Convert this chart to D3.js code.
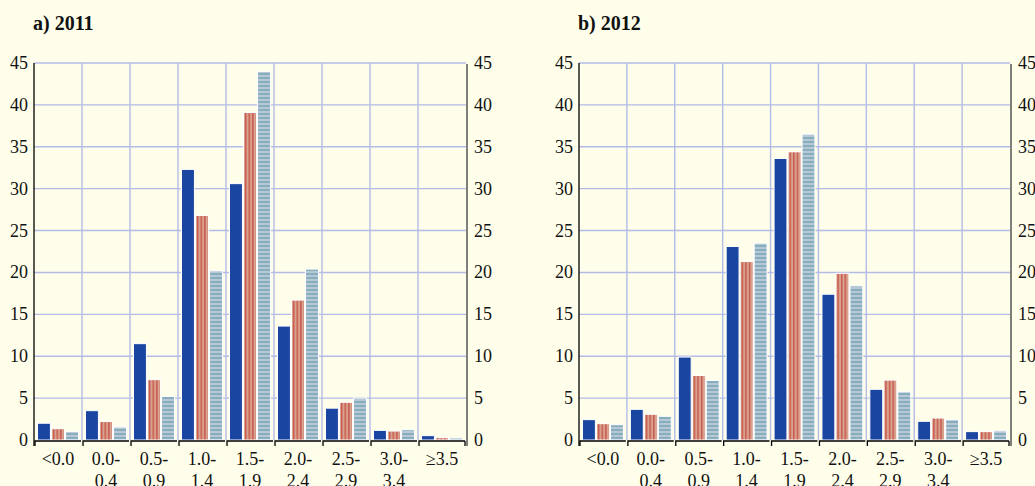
<!DOCTYPE html>
<html>
<head>
<meta charset="utf-8">
<script src="https://cdn.jsdelivr.net/npm/d3@7"></script>
<style>
  body { margin: 0; background: #fefeea; }
  svg { display: block; }
  text { font-family: "Liberation Serif", "Times New Roman", serif; fill: #111; }
</style>
</head>
<body>
<svg width="1035" height="486"></svg>
<script>
const categories = ['<0.0', '0.0-|0.4', '0.5-|0.9', '1.0-|1.4', '1.5-|1.9', '2.0-|2.4', '2.5-|2.9', '3.0-|3.4', '≥3.5']
const series = ['s1', 's2', 's3']
const yTicks = [0, 5, 10, 15, 20, 25, 30, 35, 40, 45]

// values, one list per series
const a2011_s1 = [2.0, 3.5, 11.5, 32.3, 30.6, 13.6, 3.8, 1.15, 0.52]
const a2011_s2 = [1.35, 2.2, 7.2, 26.8, 39.1, 16.7, 4.5, 1.07, 0.28]
const a2011_s3 = [1.0, 1.55, 5.2, 20.2, 44.0, 20.4, 5.0, 1.23, 0.24]

const b2012_s1 = [2.43, 3.66, 9.9, 23.1, 33.6, 17.4, 6.05, 2.23, 1.0]
const b2012_s2 = [1.95, 3.07, 7.7, 21.3, 34.4, 19.9, 7.15, 2.62, 1.0]
const b2012_s3 = [1.83, 2.83, 7.1, 23.5, 36.5, 18.4, 5.75, 2.43, 1.1]

const svg = d3.select('svg')

// fills
const defs = svg.append('defs')
const pRed = defs.append('pattern').attr('id', 'redv')
    .attr('patternUnits', 'userSpaceOnUse').attr('width', 3.6).attr('height', 4)
pRed.append('rect').attr('width', 3.6).attr('height', 4).attr('fill', '#d9a18f')
pRed.append('rect').attr('x', 1.2).attr('width', 1).attr('height', 4).attr('fill', '#c2392c')

const pBlue = defs.append('pattern').attr('id', 'blueh')
    .attr('patternUnits', 'userSpaceOnUse').attr('width', 4).attr('height', 4)
pBlue.append('rect').attr('width', 4).attr('height', 4).attr('fill', '#b6c8d3')
pBlue.append('rect').attr('y', 1.5).attr('width', 4).attr('height', 1).attr('fill', '#5b92a9')

const fills = {s1: '#1a45a0', s2: 'url(#redv)', s3: 'url(#blueh)'}

const yScale = d3.scaleLinear()
    .domain([0, 45])
    .range([440, 63])

function drawPanel(title, left, right, vals) {
    const g = svg.append('g')
    const data = categories.map((c, i) => ({cat: c, values: series.map((s, j) => ({s: s, v: vals[j][i]}))}))

    const xScale = d3.scaleBand()
        .domain(categories)
        .range([left, right])
    const bw = xScale.bandwidth()

    const inner = d3.scaleBand()
        .domain(series)
        .range([3.5, bw - 3.5])
        .paddingInner(0.08)

    g.append('text')
        .attr('x', left - 1).attr('y', 30)
        .style('font-size', '20px').style('font-weight', 'bold')
        .text(title)

    // grid
    g.selectAll('.hg').data(yTicks.slice(1)).enter()
        .append('line')
        .attr('x1', left).attr('x2', right)
        .attr('y1', d => yScale(d)).attr('y2', d => yScale(d))
        .attr('stroke', '#b3bbe6').attr('stroke-width', 1.4)
    g.selectAll('.vg').data(categories.slice(1)).enter()
        .append('line')
        .attr('x1', d => xScale(d)).attr('x2', d => xScale(d))
        .attr('y1', yScale(45)).attr('y2', yScale(0))
        .attr('stroke', '#b3bbe6').attr('stroke-width', 1.4)

    // bars
    g.selectAll('.grp').data(data).enter()
        .append('g')
        .attr('transform', d => `translate(${xScale(d.cat)},0)`)
        .selectAll('rect').data(d => d.values).enter()
        .append('rect')
        .attr('x', d => inner(d.s))
        .attr('width', inner.bandwidth())
        .attr('y', d => yScale(d.v))
        .attr('height', d => yScale(0) - yScale(d.v))
        .attr('fill', d => fills[d.s])
        .attr('stroke', '#ffffff').attr('stroke-width', 1)

    // left axis
    g.append('line')
        .attr('x1', left).attr('x2', left)
        .attr('y1', yScale(45)).attr('y2', yScale(0) + 6)
        .attr('stroke', '#000').attr('stroke-width', 1.3)
    g.selectAll('.ly').data(yTicks).enter()
        .append('text')
        .attr('x', left - 6).attr('y', d => yScale(d) + 6)
        .attr('text-anchor', 'end')
        .style('font-size', '18px')
        .text(d => d)

    // right axis
    g.append('line')
        .attr('x1', right + 1).attr('x2', right + 1)
        .attr('y1', yScale(45) + 1).attr('y2', yScale(0) + 6)
        .attr('stroke', '#555').attr('stroke-width', 1.5)
    g.selectAll('.ry').data(yTicks).enter()
        .append('text')
        .attr('x', right + 8).attr('y', d => yScale(d) + 6)
        .style('font-size', '18px')
        .text(d => d)

    // bottom bracket ticks, one per category
    g.selectAll('.bt').data(categories).enter()
        .append('path')
        .attr('d', d => {
            const x0 = xScale(d) + 1, x1 = xScale(d) + bw - 1, y = yScale(0) + 1
            return `M${x0},${y + 5}V${y}H${x1}`
        })
        .attr('fill', 'none').attr('stroke', '#000').attr('stroke-width', 1.3)
    g.append('line')
        .attr('x1', right - 1).attr('x2', right - 1)
        .attr('y1', yScale(0) + 1).attr('y2', yScale(0) + 6)
        .attr('stroke', '#000').attr('stroke-width', 1.3)

    // category labels
    const lab = g.selectAll('.cl').data(categories).enter()
        .append('text')
        .attr('text-anchor', 'middle')
        .style('font-size', '18px')
    lab.selectAll('tspan').data(d => d.split('|').map(t => ({t: t, x: xScale(d) + bw / 2}))).enter()
        .append('tspan')
        .attr('x', d => d.x)
        .attr('y', (d, i) => 465 + i * 22)
        .text(d => d.t)
}

drawPanel('a) 2011', 34, 466, [a2011_s1, a2011_s2, a2011_s3])
drawPanel('b) 2012', 579, 1010, [b2012_s1, b2012_s2, b2012_s3])
</script>
</body>
</html>
